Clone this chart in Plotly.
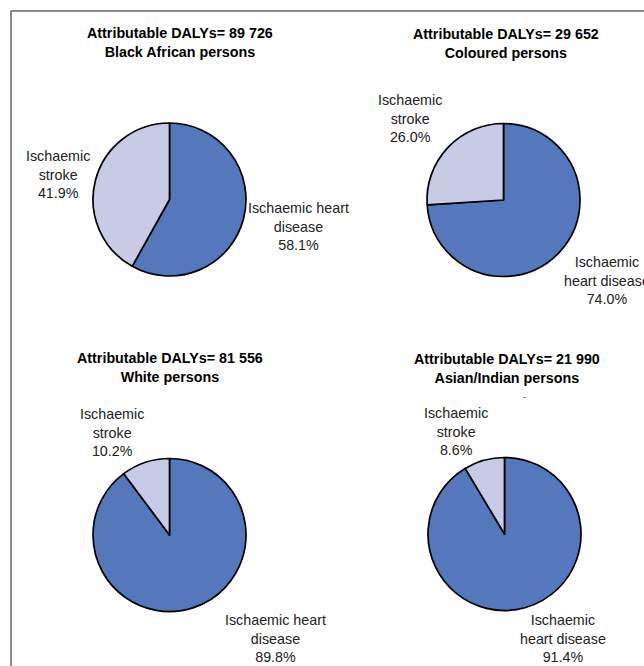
import plotly.graph_objects as go

categories = ["Ischaemic heart disease", "Ischaemic stroke"]
groups = ["Black African persons", "Coloured persons", "White persons", "Asian/Indian persons"]
dalys = ["89 726", "29 652", "81 556", "21 990"]
heart_pct = [58.1, 74.0, 89.8, 91.4]
stroke_pct = [41.9, 26.0, 10.2, 8.6]

# label display strings (line-broken as in the picture)
heart_labels = ["Ischaemic heart<br>disease", "Ischaemic<br>heart disease", "Ischaemic heart<br>disease", "Ischaemic<br>heart disease"]
stroke_labels = ["Ischaemic<br>stroke"] * 4

W, H = 644, 666
colors = ["#5577BB", "#C8CBE6"]
FONT = "Liberation Sans, Arial, sans-serif"
FS = 14.3

# pie centers and radius in pixels (layout only)
centers = [(169.5, 199.5), (503.5, 200), (169.5, 535), (504.5, 534)]
R = 76.5
title_pos = [(180, 42), (506, 44), (170, 367), (507, 368)]
heart_lab_pos = [(298, 226), (607, 280), (275, 638), (563, 638)]
stroke_lab_pos = [(58, 174), (410, 118), (112, 432), (456, 431)]

fig = go.Figure()
for i in range(4):
    cx, cy = centers[i]
    fig.add_trace(go.Pie(
        labels=categories,
        values=[heart_pct[i], stroke_pct[i]],
        sort=False,
        direction="clockwise",
        rotation=0,
        marker=dict(colors=colors, line=dict(color="black", width=1.7)),
        textinfo="none",
        hoverinfo="label+percent",
        showlegend=False,
        domain=dict(x=[(cx - R) / W, (cx + R) / W], y=[(H - cy - R) / H, (H - cy + R) / H]),
    ))

annotations = []
for i in range(4):
    tx, ty = title_pos[i]
    annotations.append(dict(
        x=tx / W, y=1 - ty / H, xref="paper", yref="paper",
        text=f"<b>Attributable DALYs= {dalys[i]}<br>{groups[i]}</b>",
        showarrow=False, font=dict(family=FONT, size=FS, color="black"),
        xanchor="center", yanchor="middle", align="center",
    ))
    hx, hy = heart_lab_pos[i]
    annotations.append(dict(
        x=hx / W, y=1 - hy / H, xref="paper", yref="paper",
        text=f"{heart_labels[i]}<br>{heart_pct[i]:.1f}%",
        showarrow=False, font=dict(family=FONT, size=FS, color="#222222"),
        xanchor="center", yanchor="middle", align="center",
    ))
    sx, sy = stroke_lab_pos[i]
    annotations.append(dict(
        x=sx / W, y=1 - sy / H, xref="paper", yref="paper",
        text=f"{stroke_labels[i]}<br>{stroke_pct[i]:.1f}%",
        showarrow=False, font=dict(family=FONT, size=FS, color="#222222"),
        xanchor="center", yanchor="middle", align="center",
    ))
# small stray mark under the Asian/Indian title
annotations.append(dict(x=528 / W, y=1 - 397 / H, xref="paper", yref="paper", text="-",
                        showarrow=False, font=dict(family=FONT, size=9, color="#333333")))

fig.update_layout(
    width=W, height=H,
    margin=dict(l=0, r=0, t=0, b=0),
    paper_bgcolor="white", plot_bgcolor="white",
    annotations=annotations,
    shapes=[dict(type="rect", xref="paper", yref="paper",
                 x0=11 / W, x1=1.02, y0=-0.02, y1=1 - 11 / H,
                 line=dict(color="#666666", width=1.5))],
)

fig.write_html(
    "out.html",
    config={"displayModeBar": False},
    post_script="document.body.style.margin='0';document.body.style.overflow='hidden';",
)
